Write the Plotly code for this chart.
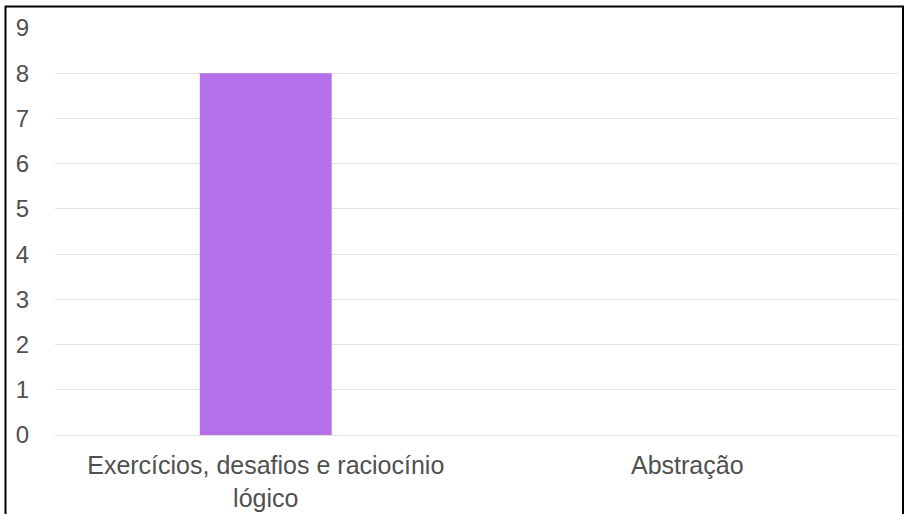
import plotly.graph_objects as go

categories = ["Exercícios, desafios e raciocínio<br>lógico", "Abstração"]
values = [8, 0]
y_ticks = list(range(0, 10))

W, H = 905, 514
L, R, T, B = 55, 7, 28, 79
pw, ph = W - L - R, H - T - B


def px_x(x):
    return (x - L) / pw


def px_y(y):
    return (H - B - y) / ph


fig = go.Figure(go.Bar(
    x=categories, y=values,
    marker=dict(color="#b370e8", line=dict(width=0)),
    width=0.313,
))

fig.update_layout(
    width=W, height=H,
    margin=dict(l=L, r=R, t=T, b=B, pad=0),
    paper_bgcolor="white", plot_bgcolor="white",
    showlegend=False,
    font=dict(family="Liberation Sans, Arial, sans-serif", size=24, color="#505050"),
    xaxis=dict(showgrid=False, showline=False, ticks="outside", ticklen=8,
               tickcolor="rgba(0,0,0,0)", tickfont=dict(size=25), automargin=False),
    yaxis=dict(range=[0, 9], tickvals=y_ticks, showgrid=True, gridcolor="#e2e2e2",
               gridwidth=1, zeroline=True, zerolinecolor="#e2e2e2", zerolinewidth=1,
               showline=False, ticks="outside", ticklen=20, tickcolor="rgba(0,0,0,0)",
               tickfont=dict(size=24), automargin=False),
    shapes=[dict(type="rect", xref="paper", yref="paper",
                 x0=px_x(5.5), x1=px_x(903), y0=px_y(530), y1=px_y(6.5),
                 line=dict(color="black", width=2), fillcolor="rgba(0,0,0,0)",
                 layer="above")],
)

fig.write_html("out.html")
